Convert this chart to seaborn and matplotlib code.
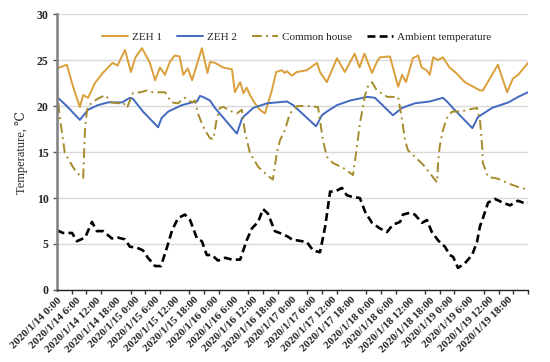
import numpy as np
import pandas as pd
import matplotlib
matplotlib.use("Agg")
import matplotlib.pyplot as plt
import matplotlib.dates as mdates
from matplotlib.ticker import FixedLocator, FuncFormatter
import seaborn as sns

# ---------------- data (hours since 2020/1/14 0:00, temperature in degC) ----------------
zeh1_hours = [0, 1.5, 3, 5, 7, 8, 9.5, 11.6, 14, 17, 18.5, 20.8, 22.6, 24, 26, 28.4, 30, 31.5, 33,
              34.5, 36, 37.5, 38.6, 40, 41.3, 44.3, 46, 46.8, 48.3, 50.8, 53.5, 54.4, 56, 57, 58,
              59, 60.5, 62, 63.6, 65.7, 67, 68.8, 69.6, 70.3, 71.8, 73.3, 76.4, 79.5, 80.4, 82.5,
              85.6, 88, 91, 92.5, 94, 96.3, 97.8, 98.7, 101.8, 104.3, 105.5, 106.7, 108.8, 110.4,
              111.5, 113, 114, 115, 116.5, 118, 120, 122, 124.7, 129.3, 130.2, 134.8, 137.6,
              139.4, 141, 144]
zeh1_temp = [24.1, 24.3, 24.5, 22.0, 19.9, 21.2, 20.9, 22.5, 23.6, 24.7, 24.4, 26.1, 23.7, 25.3,
             26.3, 24.7, 22.8, 24.2, 23.4, 24.8, 25.5, 25.4, 23.4, 24.1, 22.8, 26.3, 23.6, 24.8,
             24.7, 24.2, 24.0, 21.5, 22.6, 21.4, 22.0, 21.2, 20.3, 19.6, 19.2, 21.7, 23.7, 23.9,
             23.6, 23.8, 23.3, 23.7, 23.9, 24.7, 23.7, 22.6, 25.2, 23.7, 25.7, 24.2, 25.7, 23.6,
             24.8, 25.3, 25.4, 22.1, 23.4, 22.6, 25.2, 25.5, 24.2, 23.9, 23.4, 25.3, 25.0, 25.3,
             24.2, 23.6, 22.6, 21.7, 21.7, 24.5, 21.5, 23.0, 23.4, 24.7]

zeh2_hours = [0, 3, 7, 9.5, 12.5, 15.6, 19.9, 22.3, 23.2, 26.3, 30.9, 32, 34, 38.2, 41.3, 42.8,
              43.7, 44.6, 46.8, 48.3, 55, 56.6, 60, 64.2, 67.3, 70.3, 72.2, 79.2, 81, 82.5, 85.6,
              89.6, 94.8, 97.2, 102.7, 105.5, 109.4, 114, 118, 119.5, 121, 127, 128.7, 133, 138,
              141, 144]
zeh2_temp = [21.0, 20.0, 18.5, 19.6, 20.1, 20.4, 20.4, 20.9, 20.8, 19.4, 17.7, 18.7, 19.4, 20.1,
             20.4, 20.5, 21.1, 21.0, 20.6, 19.8, 17.0, 18.7, 19.8, 20.3, 20.4, 20.5, 20.1, 17.8,
             19.0, 19.4, 20.1, 20.6, 21.0, 20.9, 19.0, 19.8, 20.3, 20.5, 20.9, 20.4, 19.8, 17.6,
             18.8, 19.8, 20.4, 21.0, 21.5]

common_hours = [0, 0.7, 2.4, 5, 6.2, 8, 8.6, 9.2, 9.8, 12, 14.7, 16.8, 18.5, 20.2, 21.4, 23.2,
                25.4, 27.5, 29.4, 33, 35, 37, 39, 41.3, 42.2, 43.1, 44.3, 45.2, 46.8, 47.8, 48.8,
                49.8, 50.8, 53.5, 55, 56.5, 57.5, 59, 61.5, 64.2, 66, 67.2, 68.2, 69.7, 71.2,
                73.4, 77.3, 79.8, 80.4, 81.3, 82.5, 84.4, 87.4, 90.5, 91.7, 92.6, 94.2, 95, 96.3,
                97.8, 101, 104.3, 105.5, 106.4, 107.3, 109.4, 112, 114, 116.2, 116.5, 117, 118,
                119.2, 120.8, 123.2, 125.6, 128.4, 129.3, 130, 130.2, 131.8, 134.8, 137.9, 141, 144]
common_temp = [22.5, 19.2, 14.9, 13.3, 12.7, 12.2, 17.7, 19.6, 20.1, 20.7, 21.2, 20.4, 20.3, 20.4,
               19.8, 21.4, 21.5, 21.7, 21.5, 21.5, 20.4, 20.3, 20.9, 20.4, 20.6, 19.2, 18.1, 17.4,
               16.5, 16.4, 18.5, 19.8, 19.9, 19.4, 19.2, 19.6, 17.1, 14.9, 13.4, 12.5, 12.0, 14.9,
               16.3, 17.4, 19.2, 20.0, 20.0, 19.9, 18.5, 16.3, 14.5, 13.8, 13.3, 12.5, 15.6, 18.1,
               21.2, 22.1, 22.6, 21.7, 21.0, 21.0, 18.5, 16.3, 15.2, 14.5, 13.6, 12.7, 11.7, 13.8,
               15.6, 17.4, 18.7, 19.4, 19.4, 19.6, 19.8, 18.5, 15.6, 13.8, 12.3, 12.1, 11.6, 11.2,
               10.9]

ambient_hours = [0, 1.8, 4.6, 6.1, 8.6, 10.7, 12.2, 14.1, 16.8, 18.6, 20.8, 22.3, 24.5, 26.3,
                 27.8, 30, 31.8, 33.6, 35.2, 37, 39.1, 40.7, 42.8, 44.3, 45.8, 47.4, 49.2, 51.4,
                 53.5, 56, 58, 59.6, 61.5, 63, 64.5, 66.6, 68.8, 70.6, 72.2, 73.4, 76.4, 78.3,
                 80.4, 82, 83.5, 85, 87.1, 88.6, 90.5, 92.6, 94.2, 96.3, 98.7, 100.9, 102.7,
                 104.9, 105.8, 107.9, 109.4, 111.6, 113.1, 114.6, 116.5, 118.6, 120.1, 121.1,
                 122.6, 124.7, 126.9, 128.4, 129.3, 130.2, 131.8, 133.9, 136.3, 138.5, 140.9,
                 142.5, 144]
ambient_temp = [6.5, 6.2, 6.2, 5.3, 5.7, 7.4, 6.4, 6.4, 5.6, 5.7, 5.5, 4.7, 4.6, 4.3, 3.5, 2.6,
                2.6, 4.6, 6.5, 7.8, 8.2, 7.6, 5.6, 5.3, 3.8, 3.8, 3.2, 3.5, 3.3, 3.3, 5.4, 6.7,
                7.4, 8.8, 8.3, 6.4, 6.1, 5.8, 5.4, 5.4, 5.2, 4.3, 4.1, 6.9, 10.7, 10.7, 11.1, 10.3,
                10.1, 10.0, 8.5, 7.3, 6.7, 6.3, 7.1, 7.4, 8.2, 8.4, 8.2, 7.3, 7.6, 6.3, 5.4, 4.7,
                3.8, 3.6, 2.4, 2.9, 3.8, 5.2, 6.9, 7.8, 9.5, 9.9, 9.5, 9.2, 9.7, 9.5, 9.5]

series_names = ["ZEH 1", "ZEH 2", "Common house", "Ambient temperature"]
start_time = pd.Timestamp("2020-01-14 00:00")
end_time = pd.Timestamp("2020-01-20 00:00")
label_hours = list(range(0, 144, 6))          # labelled positions
tickmark_hours = list(np.arange(0, 144.01, 4.5))  # small tick marks on the axis

# ---------------- figure ----------------
sns.set_theme(style="white")
plt.rcParams["font.family"] = ["Liberation Serif", "DejaVu Serif"]

fig = plt.figure(figsize=(5.5, 3.62), dpi=100)
ax = fig.add_axes([0.1036, 0.199, 0.8564, 0.762])


def to_time(hours):
    return start_time + pd.to_timedelta(np.asarray(hours, dtype=float), unit="h")


styles = {
    "ZEH 1": dict(color="#DA9F3A", linewidth=1.4, linestyle="-"),
    "ZEH 2": dict(color="#4169C0", linewidth=1.4, linestyle="-"),
    "Common house": dict(color="#A68B2C", linewidth=1.4, linestyle=(0, (5, 2.2, 1, 2.2))),
    "Ambient temperature": dict(color="black", linewidth=1.9, linestyle=(0, (3, 1.6))),
}
data = {
    "ZEH 1": (zeh1_hours, zeh1_temp),
    "ZEH 2": (zeh2_hours, zeh2_temp),
    "Common house": (common_hours, common_temp),
    "Ambient temperature": (ambient_hours, ambient_temp),
}

for name in series_names:
    h, v = data[name]
    df = pd.DataFrame({"time": to_time(h), "temp": v})
    sns.lineplot(data=df, x="time", y="temp", ax=ax, label=name, **styles[name])

ax.set_xlim(start_time, end_time)
ax.set_ylim(0, 30)
ax.set_yticks([0, 5, 10, 15, 20, 25, 30])
ax.yaxis.grid(True, color="#D9D9D9", linewidth=1.0)
ax.xaxis.grid(False)
ax.set_axisbelow(True)

# x ticks
label_pos = [mdates.date2num(t) for t in to_time(label_hours)]
mark_pos = [mdates.date2num(t) for t in to_time(tickmark_hours)]
ax.xaxis.set_major_locator(FixedLocator(label_pos))
ax.xaxis.set_minor_locator(FixedLocator(mark_pos))


def fmt(x, pos=None):
    d = mdates.num2date(x)
    return f"{d.year}/{d.month}/{d.day} {d.hour}:{d.minute:02d}"


ax.xaxis.set_major_formatter(FuncFormatter(fmt))
ax.tick_params(axis="x", which="major", length=0, pad=4, labelsize=8)
ax.tick_params(axis="x", which="minor", length=3, width=1, color="#333333", direction="out",
               bottom=True)
for lab in ax.get_xticklabels():
    lab.set_rotation(45)
    lab.set_ha("right")
    lab.set_va("top")
    lab.set_rotation_mode("anchor")
    lab.set_fontweight("bold")

ax.tick_params(axis="y", which="major", length=3, width=1, color="#555555", left=True,
               labelsize=8.5, pad=3)
for lab in ax.get_yticklabels():
    lab.set_fontweight("bold")

ax.set_xlabel("")
ax.set_ylabel("Temperature, \u2103", fontsize=9, labelpad=6)

for s in ["top", "right"]:
    ax.spines[s].set_visible(False)
ax.spines["left"].set_color("#7F7F7F")
ax.spines["left"].set_linewidth(1.8)
ax.spines["bottom"].set_color("#222222")
ax.spines["bottom"].set_linewidth(1.0)

leg = ax.legend(loc="center", bbox_to_anchor=(0.508, 0.917), ncol=4, frameon=False,
                fontsize=8, handlelength=2.4, columnspacing=1.35, handletextpad=0.3)

fig.savefig("out.png", dpi=100)
